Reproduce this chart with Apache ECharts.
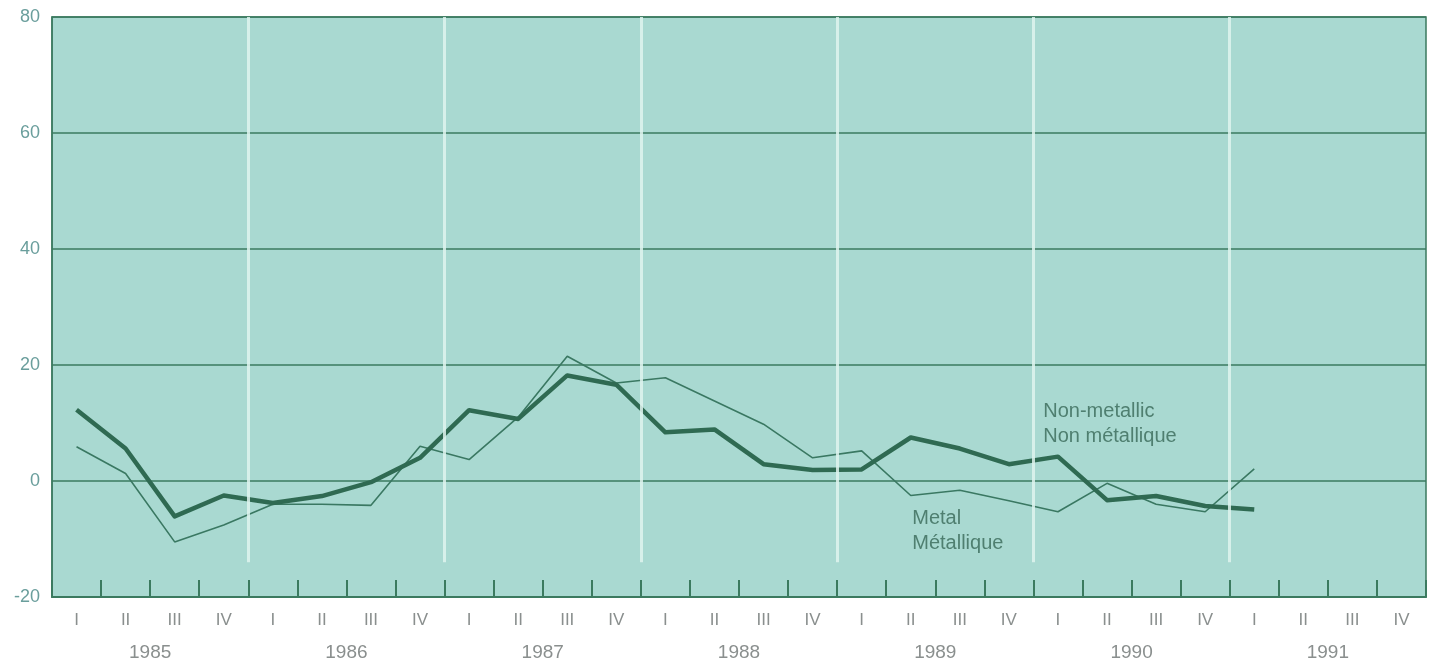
<!DOCTYPE html>
<html>
<head>
<meta charset="utf-8">
<script src="https://cdn.jsdelivr.net/npm/echarts@6/dist/echarts.min.js"></script>
<style>
  html, body { margin: 0; padding: 0; background: #ffffff; }
  #chart { width: 1429px; height: 664px; }
</style>
</head>
<body>
<div id="chart"></div>
<script>
// Quarterly change, 1985 Q1 – 1991 Q4
const years = ['1985', '1986', '1987', '1988', '1989', '1990', '1991'];
const quarterNames = ['I', 'II', 'III', 'IV'];
const quarters = years.flatMap(() => quarterNames);

// Non-metallic (heavy line), 1985 I – 1991 I
const nonMetallic = [12.3, 5.6, -6.1, -2.5, -3.8, -2.6, -0.2, 4.0,
                     12.2, 10.7, 18.2, 16.6, 8.4, 8.9, 2.9, 1.9,
                     2.0, 7.5, 5.6, 2.9, 4.2, -3.3, -2.6, -4.3,
                     -4.9];
// Metal (light line), 1985 I – 1991 I
const metal = [5.9, 1.3, -10.5, -7.6, -4.0, -4.0, -4.2, 6.0,
               3.7, 11.0, 21.5, 16.9, 17.8, 13.8, 9.8, 4.0,
               5.2, -2.5, -1.6, -3.4, -5.3, -0.4, -4.0, -5.3,
               2.1];

const yTicks = [-20, 0, 20, 40, 60, 80];

const FONT = "'Liberation Sans', Arial, sans-serif";
const DARK = '#2f6a52';
const GRID_LINE = '#3b7a5f';
const TEXT = '#8a8f8e';

// Points sit at the centre of each quarter on the 0..28 value scale
const toXY = arr => arr.map((v, i) => [i + 0.5, v]);

// Year dividers at every fourth quarter boundary, stopping above the tick band
const dividers = years.slice(1).map((_, i) => [
  { coord: [(i + 1) * 4, 80] },
  { coord: [(i + 1) * 4, -14] }
]);

const seriesLabel = (text) => ({
  show: true,
  formatter: text,
  color: '#4f7f70',
  fontFamily: FONT,
  fontSize: 20,
  lineHeight: 25,
  align: 'left',
  verticalAlign: 'middle',
  position: 'inside'
});

const chart = echarts.init(document.getElementById('chart'));
chart.setOption({
  animation: false,
  backgroundColor: '#ffffff',
  grid: {
    left: 52, right: 3, top: 17, bottom: 67,
    show: true,
    backgroundColor: '#a9d9d1',
    borderColor: GRID_LINE,
    borderWidth: 1.5
  },
  xAxis: [
    {
      type: 'category',
      data: quarters,
      boundaryGap: true,
      position: 'bottom',
      axisLine: { show: true, onZero: false, lineStyle: { color: GRID_LINE, width: 2 } },
      axisTick: { show: true, inside: true, length: 17, interval: 0, lineStyle: { color: GRID_LINE, width: 2 } },
      axisLabel: { color: TEXT, fontFamily: FONT, fontSize: 17, margin: 15, interval: 0 },
      splitLine: { show: false }
    },
    {
      type: 'category',
      data: years,
      boundaryGap: true,
      position: 'bottom',
      axisLine: { show: false, onZero: false },
      axisTick: { show: false },
      axisLabel: { color: TEXT, fontFamily: FONT, fontSize: 19, margin: 46, interval: 0 },
      splitLine: { show: false }
    },
    {
      type: 'value',
      min: 0, max: 28,
      show: false
    }
  ],
  yAxis: {
    type: 'value',
    min: yTicks[0],
    max: yTicks[yTicks.length - 1],
    interval: 20,
    axisLine: { show: true, lineStyle: { color: GRID_LINE, width: 1.5 } },
    axisTick: { show: false },
    axisLabel: { color: '#6a9e9c', fontFamily: FONT, fontSize: 18, margin: 12 },
    splitLine: { show: true, lineStyle: { color: GRID_LINE, width: 1.5 } }
  },
  series: [
    {
      name: 'dividers',
      type: 'line',
      xAxisIndex: 2,
      data: [],
      silent: true,
      z: 1,
      markLine: {
        silent: true,
        symbol: ['none', 'none'],
        label: { show: false },
        lineStyle: { color: '#dff3ef', width: 3, type: 'solid', opacity: 0.85 },
        data: dividers
      }
    },
    {
      name: 'Metal',
      type: 'line',
      xAxisIndex: 2,
      data: toXY(metal),
      showSymbol: false,
      lineStyle: { color: '#3a7862', width: 1.6 },
      z: 3,
      markPoint: {
        symbol: 'circle',
        symbolSize: 1,
        itemStyle: { color: 'rgba(0,0,0,0)' },
        label: seriesLabel('Metal\nMétallique'),
        data: [{ coord: [17.53, -8.6] }]
      }
    },
    {
      name: 'Non-metallic',
      type: 'line',
      xAxisIndex: 2,
      data: toXY(nonMetallic),
      showSymbol: false,
      lineStyle: { color: DARK, width: 4.5, join: 'round' },
      z: 4,
      markPoint: {
        symbol: 'circle',
        symbolSize: 1,
        itemStyle: { color: 'rgba(0,0,0,0)' },
        label: seriesLabel('Non-metallic\nNon métallique'),
        data: [{ coord: [20.2, 9.8] }]
      }
    }
  ]
});
</script>
</body>
</html>
